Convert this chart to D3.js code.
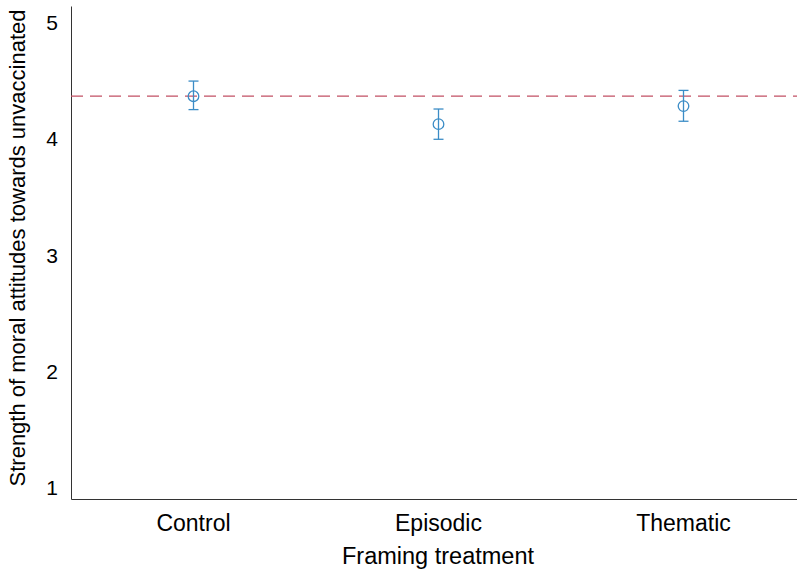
<!DOCTYPE html>
<html lang="en">
<head>
<meta charset="UTF-8">
<title>Framing treatment</title>
<style>
    body { margin: 0; background: #fff; }
    text { font-family: "Liberation Sans", Arial, sans-serif; fill: #000; }
</style>
</head>
<body>
<svg id="chart" width="797" height="571"></svg>
<script src="https://d3js.org/d3.v7.min.js"></script>
<script>
    // values
    const groups = ["Control", "Episodic", "Thematic"];
    const means = [4.36, 4.12, 4.275];
    const lower = [4.245, 3.99, 4.145];
    const upper = [4.49, 4.25, 4.41];
    const refLine = 4.36;
    const yTicks = [1, 2, 3, 4, 5];

    const blue = "#3b8cc6";
    const red = "#c25064";

    const svg = d3.select("#chart");
    const plotLeft = 71, plotBottom = 499, plotTop = 6;

    const x = d3.scaleBand().domain(groups).range([plotLeft, 806]).padding(0);
    const y = d3.scaleLinear().domain([0.9, 5.135]).range([plotBottom, plotTop]);

    // axes lines, no ticks
    const yAxis = svg.append("g")
        .attr("transform", `translate(${plotLeft},0)`)
        .call(d3.axisLeft(y).tickValues(yTicks).tickFormat(d3.format("d")).tickSize(0).tickPadding(13));
    yAxis.select(".domain").attr("stroke", "#333").attr("stroke-width", 1);
    yAxis.selectAll("text").style("font-size", "21px").attr("dy", "0.36em");

    const xAxis = svg.append("g")
        .attr("transform", `translate(0,${plotBottom})`)
        .call(d3.axisBottom(x).tickSize(0).tickPadding(16));
    xAxis.select(".domain").attr("stroke", "#333").attr("stroke-width", 1);
    xAxis.selectAll("text").style("font-size", "23px");

    // reference line
    svg.append("line")
        .attr("x1", plotLeft).attr("x2", 797)
        .attr("y1", y(refLine)).attr("y2", y(refLine))
        .attr("stroke", red).attr("stroke-width", 1.3)
        .attr("stroke-dasharray", "12,7");

    const cx = (d, i) => x(groups[i]) + x.bandwidth() / 2;

    const g = svg.append("g");
    g.selectAll(".err")
        .data(means)
        .join("line")
        .attr("x1", cx).attr("x2", cx)
        .attr("y1", (d, i) => y(lower[i])).attr("y2", (d, i) => y(upper[i]))
        .attr("stroke", blue).attr("stroke-width", 1.3);
    [lower, upper].forEach(arr => {
        g.selectAll(null)
            .data(arr)
            .join("line")
            .attr("x1", (d, i) => cx(d, i) - 5).attr("x2", (d, i) => cx(d, i) + 5)
            .attr("y1", d => y(d)).attr("y2", d => y(d))
            .attr("stroke", blue).attr("stroke-width", 1.3);
    });
    g.selectAll("circle")
        .data(means)
        .join("circle")
        .attr("cx", cx)
        .attr("cy", d => y(d))
        .attr("r", 5.3)
        .attr("fill", "none")
        .attr("stroke", blue).attr("stroke-width", 1.3);

    // titles
    svg.append("text")
        .attr("x", 438).attr("y", 564)
        .attr("text-anchor", "middle")
        .style("font-size", "23.5px")
        .text("Framing treatment");

    svg.append("text")
        .attr("transform", "translate(25,248) rotate(-90)")
        .attr("text-anchor", "middle")
        .style("font-size", "22px")
        .text("Strength of moral attitudes towards unvaccinated");
</script>
</body>
</html>
